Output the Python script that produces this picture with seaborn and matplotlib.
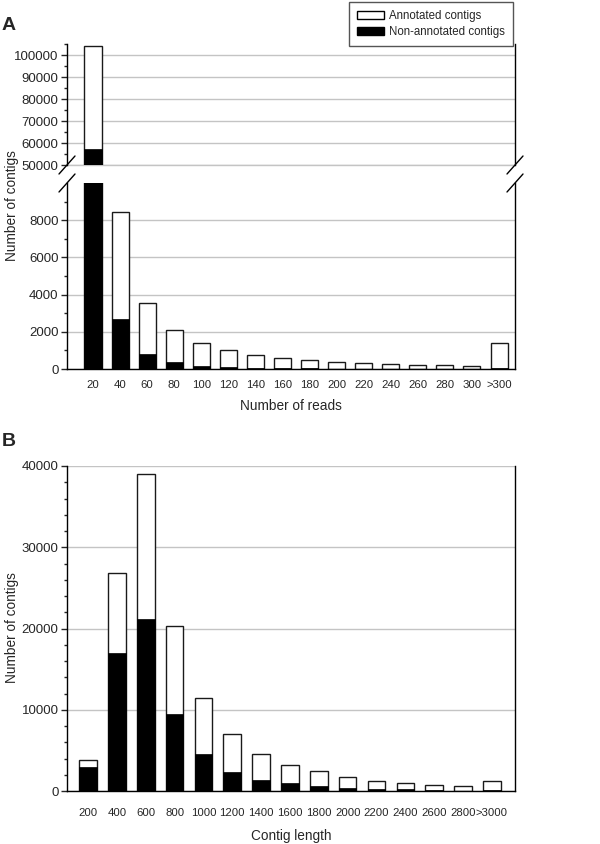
import matplotlib
matplotlib.use("Agg")
import matplotlib.pyplot as plt
import seaborn as sns
from matplotlib.patches import Patch
from matplotlib.ticker import MultipleLocator, FixedLocator

# ==============================================================================
# DATA
# ==============================================================================

read_bins = ['20', '40', '60', '80', '100', '120', '140', '160', '180', '200',
             '220', '240', '260', '280', '300', '>300']
read_total = [104300, 8420, 3550, 2100, 1380, 1000, 740, 570, 470, 360,
              320, 250, 215, 215, 150, 1420]
read_nonannot = [57300, 2670, 800, 360, 180, 100, 70, 40, 30, 20,
                 15, 10, 10, 10, 5, 30]

length_bins = ['200', '400', '600', '800', '1000', '1200', '1400', '1600', '1800',
               '2000', '2200', '2400', '2600', '2800', '>3000']
length_total = [3870, 26810, 38970, 20320, 11500, 6980, 4560, 3250, 2430,
                1770, 1280, 1030, 740, 580, 1280]
length_nonannot = [2960, 17040, 21150, 9450, 4600, 2300, 1360, 950, 620,
                   420, 250, 200, 100, 60, 100]

# ==============================================================================
# STYLE
# ==============================================================================

sns.set_style("white")
plt.rcParams['font.family'] = ['Liberation Sans', 'DejaVu Sans']
plt.rcParams['axes.edgecolor'] = 'black'
plt.rcParams['axes.linewidth'] = 1.0

W, H = 600, 844
fig = plt.figure(figsize=(W / 100, H / 100), dpi=100)


def px_axes(left, top, right, bottom):
    """Create axes from pixel box (origin top-left)."""
    return fig.add_axes([left / W, 1 - bottom / H, (right - left) / W, (bottom - top) / H])


def stacked_bars(ax, cats, total, nonannot, width):
    sns.barplot(x=cats, y=total, color='white', edgecolor='#1a1a1a', linewidth=1.0,
                width=width, saturation=1, ax=ax)
    sns.barplot(x=cats, y=nonannot, color='black', edgecolor='black', linewidth=0.5,
                width=width, saturation=1, ax=ax)


def style_axis(ax, xpad):
    ax.set_axisbelow(True)
    ax.yaxis.grid(True, color='#c4c4c4', linewidth=1.0)
    ax.xaxis.grid(False)
    for s in ['left', 'right', 'bottom']:
        ax.spines[s].set_visible(True)
        ax.spines[s].set_color('black')
    ax.spines['top'].set_visible(False)
    ax.tick_params(axis='y', which='major', direction='out', length=4, width=1,
                   left=True, right=False, labelsize=9.5, pad=2)
    ax.tick_params(axis='y', which='minor', direction='out', length=2.5, width=1,
                   left=True, right=False)
    ax.tick_params(axis='x', length=0, labelsize=8.2, pad=xpad)
    ax.set_xlabel('')
    ax.set_ylabel('')


# ==============================================================================
# PANEL A (broken y axis)
# ==============================================================================

ax_top = px_axes(67, 44, 515, 165)
ax_bot = px_axes(67, 183, 515, 369)

for ax in (ax_top, ax_bot):
    stacked_bars(ax, read_bins, read_total, read_nonannot, 0.63)
    style_axis(ax, 8)
    ax.set_xlim(-0.96, len(read_bins) - 0.41)

ax_top.set_ylim(50000, 105000)
ax_top.yaxis.set_major_locator(FixedLocator(range(50000, 100001, 10000)))
ax_top.yaxis.set_minor_locator(MultipleLocator(5000))
ax_top.spines['bottom'].set_visible(False)
ax_top.tick_params(axis='x', labelbottom=False)
# grid line at the lower edge of the top panel
ax_top.axhline(50000, color='#c4c4c4', lw=1.0, clip_on=False, zorder=0.5)

ax_bot.set_ylim(0, 10000)
ax_bot.yaxis.set_major_locator(FixedLocator(range(0, 8001, 2000)))
ax_bot.yaxis.set_minor_locator(FixedLocator(range(1000, 10000, 1000)))

# break marks
for ax, y, hpx in ((ax_top, 0, 121), (ax_bot, 1, 186)):
    dx, dy = 8 / 448, 9 / hpx
    for x in (0, 1):
        ax.plot([x - dx, x + dx], [y - dy, y + dy], color='black', lw=1,
                transform=ax.transAxes, clip_on=False)

fig.text(12 / W, 1 - 206 / H, 'Number of contigs', rotation=90, ha='center', va='center',
         fontsize=9.8)
fig.text(291 / W, 1 - 406 / H, 'Number of reads', ha='center', va='center', fontsize=9.8)
fig.text(2 / W, 1 - 25 / H, 'A', ha='left', va='center', fontsize=14, fontweight='bold')

# ==============================================================================
# PANEL B
# ==============================================================================

ax_b = px_axes(67, 466, 515, 791)
stacked_bars(ax_b, length_bins, length_total, length_nonannot, 0.61)
style_axis(ax_b, 12)
ax_b.set_xlim(-0.73, len(length_bins) - 0.2)
ax_b.set_ylim(0, 40000)
ax_b.yaxis.set_major_locator(FixedLocator(range(0, 40001, 10000)))
ax_b.yaxis.set_minor_locator(MultipleLocator(2000))

fig.text(12 / W, 1 - 628 / H, 'Number of contigs', rotation=90, ha='center', va='center',
         fontsize=9.8)
fig.text(291 / W, 1 - 836 / H, 'Contig length', ha='center', va='center', fontsize=9.8)
fig.text(2 / W, 1 - 442 / H, 'B', ha='left', va='center', fontsize=14, fontweight='bold')

# ==============================================================================
# LEGEND
# ==============================================================================

handles = [Patch(facecolor='white', edgecolor='black', linewidth=1.0),
           Patch(facecolor='black', edgecolor='black', linewidth=1.0)]
leg = fig.legend(handles, ['Annotated contigs', 'Non-annotated contigs'],
                 loc='upper right', bbox_to_anchor=(513 / W, 1 - 2 / H),
                 fontsize=8.3, frameon=True, fancybox=False, framealpha=1,
                 edgecolor='#555555', handlelength=2.3, handleheight=0.7,
                 handletextpad=0.45, labelspacing=0.35, borderpad=0.7,
                 borderaxespad=0)
leg.get_frame().set_linewidth(1.0)

fig.savefig('out.png', dpi=100)
